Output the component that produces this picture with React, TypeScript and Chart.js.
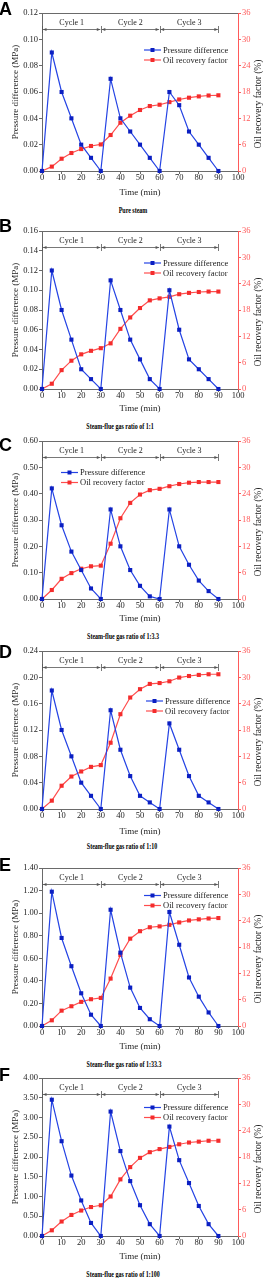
import React, { useEffect, useRef } from "react";
import { Chart, registerables } from "chart.js";

Chart.register(...registerables);

// ---------- data ----------
const TIME = [0, 5, 10, 15, 20, 25, 30, 35, 40, 45, 50, 55, 60, 65, 70, 75, 80, 85, 90];
const X_TICKS = [0, 10, 20, 30, 40, 50, 60, 70, 80, 90, 100];
const ORF_TICKS = [0, 6, 12, 18, 24, 30, 36];
const CYCLE_BOUNDS = [0, 30, 60, 90];
const CYCLE_LABELS = ["Cycle 1", "Cycle 2", "Cycle 3"];
const SERIES_NAMES = ["Pressure difference", "Oil recovery factor"];
const PANEL_LETTERS = ["A", "B", "C", "D", "E", "F"];
const CAPTIONS = [
  "Pure steam",
  "Steam-flue gas ratio of 1:1",
  "Steam-flue gas ratio of 1:3.3",
  "Steam-flue gas ratio of 1:10",
  "Steam-flue gas ratio of 1:33.3",
  "Steam-flue gas ratio of 1:100",
];
const X_TITLE = "Time (min)";
const Y_TITLE = "Pressure difference (MPa)";
const Y2_TITLE = "Oil recovery factor (%)";

const PD_MAX = [0.12, 0.16, 0.6, 0.24, 1.4, 4.0];
const PD_STEP = [0.02, 0.02, 0.1, 0.04, 0.2, 0.5];

const PD_A = [0, 0.09, 0.06, 0.04, 0.02, 0.01, 0, 0.07, 0.04, 0.03, 0.02, 0.01, 0, 0.06, 0.05, 0.03, 0.02, 0.01, 0];
const ORF_A = [0, 1.0, 2.8, 4.1, 5.0, 5.7, 6.05, 8.2, 11.0, 12.6, 13.9, 14.8, 15.1, 15.7, 16.3, 16.7, 17.0, 17.2, 17.25];

const PD_B = [0, 0.12, 0.08, 0.05, 0.02, 0.01, 0, 0.11, 0.08, 0.05, 0.03, 0.01, 0, 0.1, 0.06, 0.03, 0.02, 0.01, 0];
const ORF_B = [0, 1.2, 4.3, 6.45, 7.9, 8.7, 9.3, 10.4, 13.7, 16.3, 18.45, 20.2, 20.65, 21.0, 21.6, 21.9, 22.1, 22.2, 22.2];

const PD_C = [0, 0.42, 0.28, 0.18, 0.11, 0.04, 0, 0.34, 0.2, 0.11, 0.05, 0.01, 0, 0.34, 0.2, 0.13, 0.07, 0.03, 0];
const ORF_C = [0, 2.05, 4.6, 5.9, 6.9, 7.45, 7.6, 12.6, 18.4, 21.9, 23.8, 24.8, 25.1, 25.7, 26.2, 26.5, 26.65, 26.65, 26.65];

const PD_D = [0, 0.18, 0.12, 0.08, 0.04, 0.02, 0, 0.15, 0.09, 0.05, 0.02, 0.01, 0, 0.13, 0.09, 0.05, 0.02, 0.01, 0];
const ORF_D = [0, 1.9, 5.3, 7.4, 8.55, 9.6, 10.0, 15.1, 21.6, 25.4, 27.3, 28.5, 28.7, 29.1, 29.95, 30.3, 30.55, 30.7, 30.7];

const PD_E = [0, 1.19, 0.78, 0.53, 0.29, 0.1, 0, 1.03, 0.65, 0.34, 0.16, 0.06, 0, 1.01, 0.72, 0.43, 0.26, 0.12, 0];
const ORF_E = [0, 1.3, 3.5, 4.5, 5.5, 6.1, 6.4, 10.8, 16.2, 19.9, 21.6, 22.5, 22.7, 23.05, 23.6, 24.05, 24.3, 24.5, 24.6];

const PD_F = [0, 3.45, 2.4, 1.53, 0.9, 0.33, 0, 3.15, 2.15, 1.39, 0.78, 0.3, 0, 2.77, 1.92, 1.34, 0.76, 0.3, 0];
const ORF_F = [0, 1.3, 3.3, 4.8, 5.8, 6.6, 7.0, 9.0, 12.9, 15.7, 17.8, 19.1, 19.8, 20.3, 20.9, 21.3, 21.5, 21.7, 21.7];

const PD_SERIES = [PD_A, PD_B, PD_C, PD_D, PD_E, PD_F];
const ORF_SERIES = [ORF_A, ORF_B, ORF_C, ORF_D, ORF_E, ORF_F];

// ---------- layout / style ----------
const LAYOUT = [
  { plotTop: 13, letterTop: 2, legendX: 144, legendY: 37, captionX: 133, xTitleGap: 22, captionGap: 39 },
  { plotTop: 231, letterTop: 219, legendX: 144, legendY: 32, captionX: 119.5, xTitleGap: 20, captionGap: 37 },
  { plotTop: 441, letterTop: 438, legendX: 61, legendY: 31.5, captionX: 123, xTitleGap: 20, captionGap: 37 },
  { plotTop: 651, letterTop: 645, legendX: 146, legendY: 50, captionX: 122, xTitleGap: 23, captionGap: 37 },
  { plotTop: 868, letterTop: 858, legendX: 144, legendY: 27.5, captionX: 123.5, xTitleGap: 21, captionGap: 38 },
  { plotTop: 1078, letterTop: 1068, legendX: 144, legendY: 29.5, captionX: 122.5, xTitleGap: 21, captionGap: 38 },
];

const SERIF = "'Liberation Serif', 'Times New Roman', serif";
const SANS = "'Liberation Sans', Arial, sans-serif";
const BLUE_LINE = "#2443e4";
const BLUE_MARK = "#0b1fc2";
const RED_LINE = "#ff4d4d";
const RED_MARK = "#f42c2c";
const RED_AXIS = "#ff5a5a";
const AXIS = "#6a6a6a";
const TEXT = "#1c1c1c";
const CYCLE_COLOR = "#555555";

const CANVAS_W = 263;
const CANVAS_H = 200;
const TOP_PAD = 13;
const PLOT_H = 158;
const LEFT_W = 42;
const RIGHT_W = 25;
const X_H = CANVAS_H - TOP_PAD - PLOT_H;
const TICK_FONT = 8.5;
const TITLE_FONT = 9;
const Y2_TITLE_FONT = 9.5;
const LEGEND_FONT = 8.5;
const CYCLE_FONT = 8;

const decorPlugin = {
  id: "decor",
  afterDraw(chart: any, _args: any, opts: any) {
    const { ctx, chartArea, scales } = chart;
    const { left, right, top, bottom } = chartArea;
    const xs = scales.x;
    ctx.save();

    // top frame line
    ctx.strokeStyle = AXIS;
    ctx.lineWidth = 1;
    ctx.beginPath();
    ctx.moveTo(left, top + 0.5);
    ctx.lineTo(right, top + 0.5);
    ctx.stroke();

    // cycle dimension lines
    const yl = Math.round(top + 16) + 0.5;
    ctx.strokeStyle = CYCLE_COLOR;
    ctx.fillStyle = CYCLE_COLOR;
    ctx.lineWidth = 0.8;
    CYCLE_BOUNDS.forEach((b) => {
      const px = Math.round(xs.getPixelForValue(b)) + 0.5;
      ctx.beginPath();
      ctx.moveTo(px, yl - 3.5);
      ctx.lineTo(px, yl + 3.5);
      ctx.stroke();
    });
    for (let i = 0; i < CYCLE_LABELS.length; i++) {
      const x1 = xs.getPixelForValue(CYCLE_BOUNDS[i]) + 1;
      const x2 = xs.getPixelForValue(CYCLE_BOUNDS[i + 1]) - 0.5;
      ctx.beginPath();
      ctx.moveTo(x1, yl);
      ctx.lineTo(x2, yl);
      ctx.stroke();
      ctx.beginPath();
      ctx.moveTo(x1, yl);
      ctx.lineTo(x1 + 3.5, yl - 1.6);
      ctx.lineTo(x1 + 3.5, yl + 1.6);
      ctx.closePath();
      ctx.fill();
      ctx.beginPath();
      ctx.moveTo(x2, yl);
      ctx.lineTo(x2 - 3.5, yl - 1.6);
      ctx.lineTo(x2 - 3.5, yl + 1.6);
      ctx.closePath();
      ctx.fill();
      ctx.fillStyle = TEXT;
      ctx.font = `${CYCLE_FONT}px ${SERIF}`;
      ctx.textAlign = "center";
      ctx.textBaseline = "middle";
      ctx.fillText(CYCLE_LABELS[i], (x1 + x2) / 2, top + 10);
      ctx.fillStyle = CYCLE_COLOR;
    }

    // legend
    const rows = [
      { name: SERIES_NAMES[0], line: BLUE_LINE, mark: BLUE_MARK },
      { name: SERIES_NAMES[1], line: RED_LINE, mark: RED_MARK },
    ];
    rows.forEach((r, i) => {
      const y = top + opts.legendY + i * 10;
      const x = opts.legendX;
      ctx.strokeStyle = r.line;
      ctx.lineWidth = 1.2;
      ctx.beginPath();
      ctx.moveTo(x, y);
      ctx.lineTo(x + 17, y);
      ctx.stroke();
      ctx.fillStyle = r.mark;
      ctx.fillRect(x + 8.5 - 2, y - 2, 4, 4);
      ctx.fillStyle = TEXT;
      ctx.font = `${LEGEND_FONT}px ${SERIF}`;
      ctx.textAlign = "left";
      ctx.textBaseline = "middle";
      ctx.fillText(r.name, x + 19, y + 0.5);
    });

    // right axis title (reads bottom-to-top)
    ctx.translate(right + 20.5, (top + bottom) / 2 + 12);
    ctx.rotate(-Math.PI / 2);
    ctx.fillStyle = TEXT;
    ctx.font = `${Y2_TITLE_FONT}px ${SERIF}`;
    ctx.textAlign = "center";
    ctx.textBaseline = "middle";
    ctx.fillText(Y2_TITLE, 0, 0);

    ctx.restore();
  },
};

function Panel({ idx }: { idx: number }) {
  const ref = useRef<HTMLCanvasElement>(null);
  const L = LAYOUT[idx];

  useEffect(() => {
    if (!ref.current) return;
    const pd = PD_SERIES[idx];
    const orf = ORF_SERIES[idx];
    const max = PD_MAX[idx];
    const step = PD_STEP[idx];
    const nTicks = Math.round(max / step);
    const yTicks: number[] = [];
    for (let k = 0; k <= nTicks; k++) yTicks.push(Math.round(k * step * 1000) / 1000);

    const chart = new Chart(ref.current, {
      type: "line",
      data: {
        datasets: [
          {
            label: SERIES_NAMES[0],
            data: TIME.map((t, i) => ({ x: t, y: pd[i] })),
            yAxisID: "y",
            borderColor: BLUE_LINE,
            backgroundColor: BLUE_MARK,
            pointBackgroundColor: BLUE_MARK,
            pointBorderWidth: 0,
            pointStyle: "rect",
            pointRadius: 2.9,
            borderWidth: 1.2,
            tension: 0,
            clip: false,
            order: 0,
          },
          {
            label: SERIES_NAMES[1],
            data: TIME.map((t, i) => ({ x: t, y: orf[i] })),
            yAxisID: "y2",
            borderColor: RED_LINE,
            backgroundColor: RED_MARK,
            pointBackgroundColor: RED_MARK,
            pointBorderWidth: 0,
            pointStyle: "rect",
            pointRadius: 2.9,
            borderWidth: 1.2,
            tension: 0,
            clip: false,
            order: 1,
          },
        ],
      },
      options: {
        animation: false,
        responsive: false,
        maintainAspectRatio: false,
        events: [],
        layout: { padding: { top: TOP_PAD, left: 0, right: 0, bottom: 0 } },
        plugins: {
          legend: { display: false },
          tooltip: { enabled: false },
          decor: { legendX: L.legendX, legendY: L.legendY },
        } as any,
        scales: {
          x: {
            type: "linear",
            position: "bottom",
            min: 0,
            max: 100,
            afterBuildTicks: (s: any) => {
              s.ticks = X_TICKS.map((v) => ({ value: v }));
            },
            afterFit: (s: any) => {
              s.height = X_H;
            },
            grid: { drawOnChartArea: false, tickLength: 3, color: AXIS },
            border: { color: AXIS, width: 1 },
            ticks: {
              font: { family: SERIF, size: TICK_FONT },
              color: TEXT,
              padding: -1.5,
              maxRotation: 0,
              autoSkip: false,
            },
            title: {
              display: true,
              text: X_TITLE,
              color: TEXT,
              font: { family: SERIF, size: TITLE_FONT },
              padding: { top: 0, bottom: X_H - L.xTitleGap - TITLE_FONT * 0.6 },
            },
          },
          y: {
            type: "linear",
            position: "left",
            min: 0,
            max: max,
            afterBuildTicks: (s: any) => {
              s.ticks = yTicks.map((v) => ({ value: v }));
            },
            afterFit: (s: any) => {
              s.width = LEFT_W;
            },
            grid: { drawOnChartArea: false, tickLength: 3, color: AXIS },
            border: { color: AXIS, width: 1 },
            ticks: {
              font: { family: SERIF, size: TICK_FONT },
              color: TEXT,
              padding: 1,
              autoSkip: false,
              callback: (v: any) => Number(v).toFixed(2),
            },
            title: {
              display: true,
              text: Y_TITLE,
              color: TEXT,
              font: { family: SERIF, size: TITLE_FONT },
              padding: { top: 10, bottom: 0 },
            },
          },
          y2: {
            type: "linear",
            position: "right",
            min: 0,
            max: 36,
            afterBuildTicks: (s: any) => {
              s.ticks = ORF_TICKS.map((v) => ({ value: v }));
            },
            afterFit: (s: any) => {
              s.width = RIGHT_W;
            },
            grid: { drawOnChartArea: false, tickLength: 3, color: RED_AXIS },
            border: { color: RED_AXIS, width: 1 },
            ticks: {
              font: { family: SERIF, size: TICK_FONT },
              color: RED_AXIS,
              padding: 1,
              autoSkip: false,
            },
            title: { display: false, text: Y2_TITLE },
          },
        },
      } as any,
      plugins: [decorPlugin],
    });
    return () => chart.destroy();
  }, [idx]);

  return (
    <>
      <canvas
        ref={ref}
        width={CANVAS_W}
        height={CANVAS_H}
        style={{ position: "absolute", left: 0, top: L.plotTop - TOP_PAD, width: CANVAS_W, height: CANVAS_H }}
      />
      <div
        style={{
          position: "absolute",
          left: -1,
          top: L.letterTop - 2.4,
          font: `bold 18px ${SANS}`,
          lineHeight: "18px",
          color: "#000",
        }}
      >
        {PANEL_LETTERS[idx]}
      </div>
      <div
        style={{
          position: "absolute",
          left: L.captionX,
          top: L.plotTop + PLOT_H + L.captionGap,
          transform: "translate(-50%, -50%) scaleX(0.8)",
          font: `bold 7.5px ${SERIF}`,
          lineHeight: "9px",
          whiteSpace: "nowrap",
          color: "#000",
        }}
      >
        {CAPTIONS[idx]}
      </div>
    </>
  );
}

export default function App() {
  return (
    <div
      style={{
        position: "absolute",
        left: 0,
        top: 0,
        width: 263,
        height: 1278,
        background: "#fff",
        overflow: "hidden",
      }}
    >
      {PANEL_LETTERS.map((_, i) => (
        <Panel key={i} idx={i} />
      ))}
    </div>
  );
}
